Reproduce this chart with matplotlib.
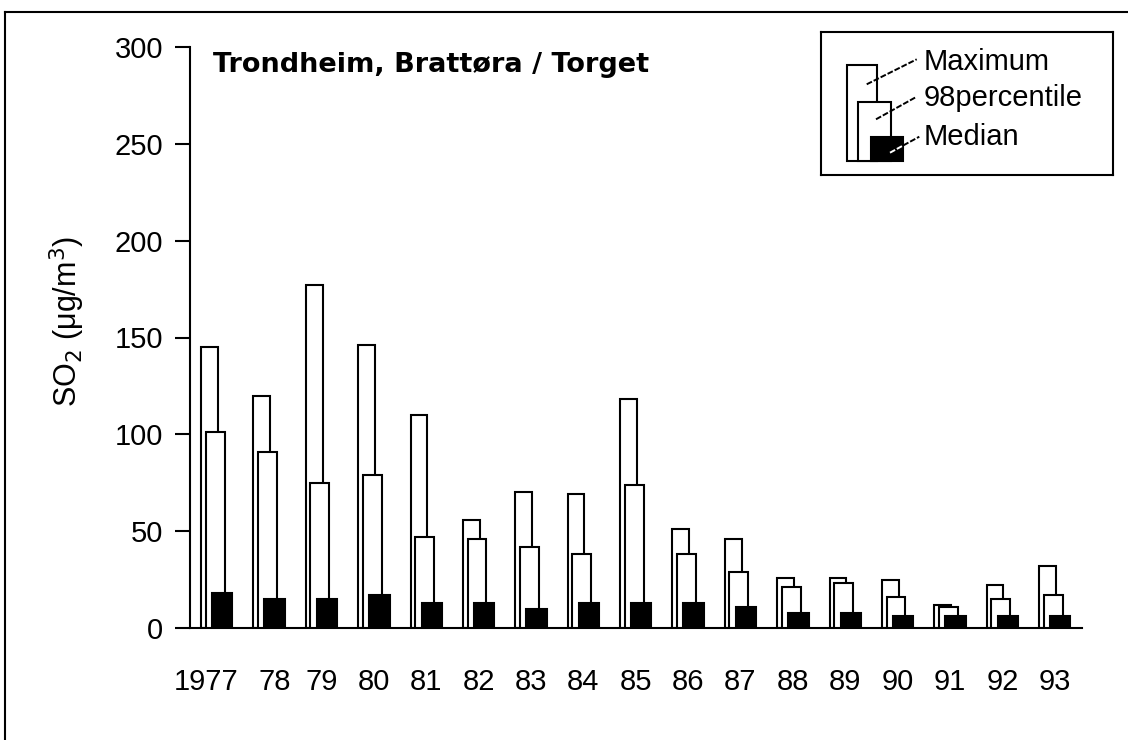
import numpy as np
import matplotlib
matplotlib.use("Agg")
import matplotlib.pyplot as plt
import matplotlib.transforms as mtransforms
from matplotlib.patches import Rectangle
from matplotlib.lines import Line2D

# SO2 at Trondheim, Brattøra / Torget (ug/m3)
years = np.arange(1977, 1994)
year_labels = ["1977", "78", "79", "80", "81", "82", "83", "84", "85",
               "86", "87", "88", "89", "90", "91", "92", "93"]
maximum = [145, 120, 177, 146, 110, 56, 70, 69, 118, 51, 46, 26, 26, 25, 12, 22, 32]
p98 = [101, 91, 75, 79, 47, 46, 42, 38, 74, 38, 29, 21, 23, 16, 11, 15, 17]
median = [18, 15, 15, 17, 13, 13, 10, 13, 13, 13, 11, 8, 8, 6, 6, 6, 6]

plt.rcParams["font.family"] = ["Liberation Sans", "DejaVu Sans"]
LW = 1.5

W, H = 1128, 740
fig = plt.figure(figsize=(W / 100, H / 100), dpi=100)

# frame lines (only top and left are visible in the original)
fig.add_artist(Line2D([5 / W, 1], [1 - 12 / H, 1 - 12 / H], color="black", lw=LW))
fig.add_artist(Line2D([5 / W, 5 / W], [0, 1 - 12 / H], color="black", lw=LW))

ax = fig.add_axes([190 / W, 1 - 628 / H, 892 / W, 581 / H])

bar_style = dict(align="edge", edgecolor="black", linewidth=LW)
ax.bar(years - 0.30, maximum, 0.32, facecolor="white", zorder=2, **bar_style)
ax.bar(years - 0.21, p98, 0.36, facecolor="white", zorder=3, **bar_style)
ax.bar(years - 0.09, median, 0.39, facecolor="black", zorder=4, **bar_style)

ax.set_xlim(1976.49, 1993.52)
ax.set_ylim(0, 300)
ax.set_yticks(np.arange(0, 301, 50))
ax.set_xticks(years)
ax.set_xticklabels(year_labels)

for side in ["top", "right"]:
    ax.spines[side].set_visible(False)
for side in ["left", "bottom"]:
    ax.spines[side].set_linewidth(LW)

ax.tick_params(axis="x", length=0, pad=29, labelsize=21)
ax.tick_params(axis="y", direction="out", length=10.8, width=LW, pad=8.5, labelsize=21)

# the first two year labels sit a little apart in the original
xlabels = ax.get_xticklabels()
for lbl, dx in [(xlabels[0], -11), (xlabels[1], 6)]:
    lbl.set_transform(lbl.get_transform() +
                      mtransforms.ScaledTranslation(dx / 100, 0, fig.dpi_scale_trans))

ax.set_ylabel(r"SO$_2$ ($\mathregular{\mu}$g/m$^3$)", fontsize=22)
ax.yaxis.set_label_coords(-0.115, 0.527)

fig.text(213 / W, 1 - 72 / H, "Trondheim, Brattøra / Torget", fontsize=19.5,
         fontweight="bold", family="DejaVu Sans", va="baseline", ha="left")

# legend drawn by hand, local pixel coordinates inside the box
lax = fig.add_axes([821 / W, 1 - 175 / H, 292 / W, 143 / H])
lax.set_xlim(0, 292)
lax.set_ylim(143, 0)
lax.set_xticks([])
lax.set_yticks([])
for sp in lax.spines.values():
    sp.set_linewidth(LW)

lax.add_patch(Rectangle((25.7, 33), 30.6, 96, facecolor="white", edgecolor="black", lw=LW))
lax.add_patch(Rectangle((36.7, 70.3), 33, 58.7, facecolor="white", edgecolor="black", lw=LW))
lax.add_patch(Rectangle((50, 104.7), 32.3, 24.3, facecolor="black", edgecolor="black", lw=LW))

dash = dict(lw=1.4, linestyle=(0, (3, 1)))
lax.plot([45.7, 95.7], [52.3, 27.3], color="black", **dash)
lax.plot([55, 95.7], [87.3, 64.7], color="black", **dash)
lax.plot([69, 82.3], [120.7, 113.4], color="white", **dash)
lax.plot([82.3, 98.3], [113.4, 104.7], color="black", **dash)

for txt, yy in [("Maximum", 29.7), ("98percentile", 66.3), ("Median", 105.3)]:
    lax.text(103, yy, txt, fontsize=21, va="center", ha="left")

fig.savefig("out.png", dpi=100)
